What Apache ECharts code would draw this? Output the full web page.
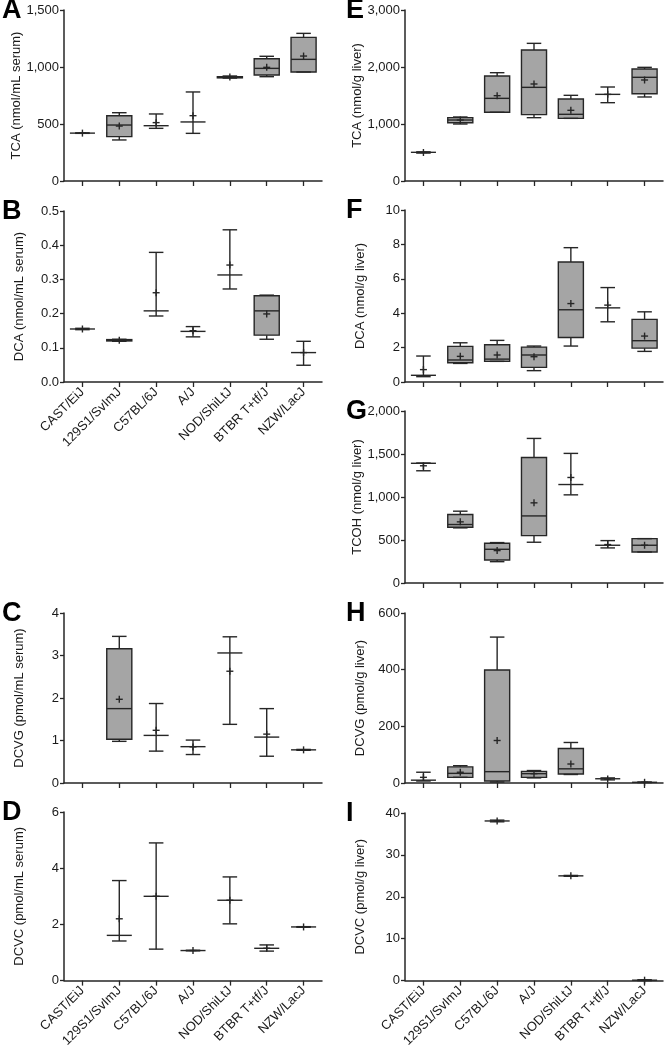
<!DOCTYPE html>
<html lang="en">
<head>
<meta charset="utf-8">
<title>Bile acids and TCE metabolites by strain</title>
<script src="https://cdn.jsdelivr.net/npm/echarts@6/dist/echarts.min.js"></script>
<style>
  html, body { margin: 0; padding: 0; background: #fff; }
  #main { width: 667px; height: 1050px; }
</style>
</head>
<body>
<div id="main"></div>
<script type="text/javascript">
var strains = ['CAST/EiJ', '129S1/SvImJ', 'C57BL/6J', 'A/J', 'NOD/ShiLtJ', 'BTBR T+tf/J', 'NZW/LacJ'];

// each row: [min, q1, median, q3, max, mean]; q1/q3 null = no box, null row = no data
var serumTCA = [
  [418, null, 420, null, 422, 420],
  [360, 389, 491, 573, 599, 482],
  [462, null, 485, null, 588, 512],
  [418, null, 518, null, 781, 573],
  [903, 905, 909, 915, 921, 912],
  [915, 930, 988, 1073, 1094, 997],
  [956, 956, 1067, 1260, 1295, 1096]
];
var serumDCA = [
  [0.153, null, 0.155, null, 0.157, 0.155],
  [0.119, 0.120, 0.122, 0.124, 0.125, 0.122],
  [0.193, null, 0.208, null, 0.379, 0.261],
  [0.132, null, 0.148, null, 0.162, 0.150],
  [0.272, null, 0.313, null, 0.445, 0.342],
  [0.125, 0.137, 0.208, 0.252, 0.254, 0.199],
  [0.049, null, 0.086, null, 0.119, 0.086]
];
var serumDCVG = [
  null,
  [0.98, 1.03, 1.75, 3.16, 3.45, 1.97],
  [0.75, null, 1.12, null, 1.87, 1.24],
  [0.67, null, 0.855, null, 1.01, 0.85],
  [1.38, null, 3.06, null, 3.44, 2.63],
  [0.63, null, 1.08, null, 1.75, 1.15],
  [0.77, null, 0.78, null, 0.79, 0.78]
];
var serumDCVC = [
  null,
  [1.41, null, 1.61, null, 3.56, 2.20],
  [1.12, null, 3.0, null, 4.90, 3.0],
  [1.06, null, 1.07, null, 1.08, 1.07],
  [2.02, null, 2.86, null, 3.69, 2.86],
  [1.05, null, 1.15, null, 1.27, 1.15],
  [1.90, null, 1.91, null, 1.92, 1.91]
];
var liverTCA = [
  [490, null, 503, null, 512, 500],
  [1000, 1023, 1070, 1111, 1123, 1070],
  [1205, 1205, 1450, 1842, 1900, 1497],
  [1111, 1164, 1643, 2298, 2415, 1702],
  [1099, 1099, 1170, 1439, 1503, 1240],
  [1374, null, 1520, null, 1649, 1520],
  [1474, 1532, 1819, 1965, 1994, 1772]
];
var liverDCA = [
  [0.31, null, 0.39, null, 1.51, 0.72],
  [1.08, 1.12, 1.28, 2.07, 2.28, 1.49],
  [1.20, 1.20, 1.33, 2.17, 2.42, 1.57],
  [0.66, 0.85, 1.57, 2.03, 2.09, 1.47],
  [2.09, 2.59, 4.20, 6.98, 7.81, 4.56],
  [3.50, null, 4.31, null, 5.49, 4.47],
  [1.78, 1.97, 2.40, 3.64, 4.08, 2.67]
];
var liverTCOH = [
  [1305, null, 1392, null, 1395, 1363],
  [641, 648, 680, 796, 835, 711],
  [248, 268, 392, 462, 470, 377],
  [474, 551, 780, 1460, 1681, 932],
  [1025, null, 1145, null, 1507, 1227],
  [408, null, 439, null, 493, 447],
  [361, 361, 439, 516, 516, 439]
];
var liverDCVG = [
  [7, null, 10, null, 38, 20],
  [20, 20, 34, 57, 61, 38],
  [3.5, 7, 40, 399, 515, 150],
  [18, 20, 33, 41, 44, 33],
  [30, 32, 50, 122, 143, 67],
  [11, null, 15, null, 18, 14],
  [1.5, null, 2.5, null, 3.5, 2.5]
];
var liverDCVC = [
  null,
  null,
  [37.9, null, 38.1, null, 38.3, 38.1],
  null,
  [24.9, null, 25.0, null, 25.1, 25.0],
  null,
  [0, null, 0.1, null, 0.2, 0.1]
];

var panels = [
  { letter: 'A', data: serumTCA, name: 'TCA (nmol/mL serum)', max: 1500, step: 500, dec: 0, col: 0, top: 10, h: 171, labels: false },
  { letter: 'B', data: serumDCA, name: 'DCA (nmol/mL serum)', max: 0.5, step: 0.1, dec: 1, col: 0, top: 211, h: 171, labels: true },
  { letter: 'C', data: serumDCVG, name: 'DCVG (pmol/mL serum)', max: 4, step: 1, dec: 0, col: 0, top: 613, h: 170, labels: false },
  { letter: 'D', data: serumDCVC, name: 'DCVC (pmol/mL serum)', max: 6, step: 2, dec: 0, col: 0, top: 812, h: 171, labels: true },
  { letter: 'E', data: liverTCA, name: 'TCA (nmol/g liver)', max: 3000, step: 1000, dec: 0, col: 1, top: 10, h: 171, labels: false },
  { letter: 'F', data: liverDCA, name: 'DCA (nmol/g liver)', max: 10, step: 2, dec: 0, col: 1, top: 210, h: 172, labels: false },
  { letter: 'G', data: liverTCOH, name: 'TCOH (nmol/g liver)', max: 2000, step: 500, dec: 0, col: 1, top: 411, h: 172, labels: false },
  { letter: 'H', data: liverDCVG, name: 'DCVG (pmol/g liver)', max: 600, step: 200, dec: 0, col: 1, top: 613, h: 170, labels: false },
  { letter: 'I', data: liverDCVC, name: 'DCVC (pmol/g liver)', max: 40, step: 10, dec: 0, col: 1, top: 813, h: 170, labels: true }
];

var colLeft = [64, 405];
var plotW = 258;
var ink = '#262626';
var font = 'Liberation Sans, Arial, sans-serif';

function fmt(dec) {
  return function (v) {
    if (dec > 0) return v.toFixed(dec);
    return Math.round(v).toLocaleString('en-US');
  };
}

// box-and-whisker drawn from the record of the category
function makeRender(rows) {
  return function (params, api) {
    var i = api.value(0);
    var r = rows[i];
    var band = api.size([1, 0])[0];
    var bw = band * 0.68, cw = bw * 0.58, pw = 3.5;
    var cx = api.coord([i, 0])[0];
    var y = function (v) { return api.coord([i, v])[1]; };
    var st = { stroke: ink, lineWidth: 1.4, fill: null };
    var kids = [];
    var hasBox = r[1] != null;
    if (hasBox) {
      kids.push({ type: 'line', shape: { x1: cx, y1: y(r[4]), x2: cx, y2: y(r[3]) }, style: st });
      kids.push({ type: 'line', shape: { x1: cx, y1: y(r[1]), x2: cx, y2: y(r[0]) }, style: st });
      kids.push({ type: 'rect', shape: { x: cx - bw / 2, y: y(r[3]), width: bw, height: y(r[1]) - y(r[3]) },
        style: { fill: '#a5a5a5', stroke: ink, lineWidth: 1.4 } });
    } else {
      kids.push({ type: 'line', shape: { x1: cx, y1: y(r[4]), x2: cx, y2: y(r[0]) }, style: st });
    }
    kids.push({ type: 'line', shape: { x1: cx - cw / 2, y1: y(r[4]), x2: cx + cw / 2, y2: y(r[4]) }, style: st });
    kids.push({ type: 'line', shape: { x1: cx - cw / 2, y1: y(r[0]), x2: cx + cw / 2, y2: y(r[0]) }, style: st });
    kids.push({ type: 'line', shape: { x1: cx - bw / 2, y1: y(r[2]), x2: cx + bw / 2, y2: y(r[2]) }, style: st });
    var my = y(r[5]);
    kids.push({ type: 'line', shape: { x1: cx - pw, y1: my, x2: cx + pw, y2: my }, style: st });
    kids.push({ type: 'line', shape: { x1: cx, y1: my - pw, x2: cx, y2: my + pw }, style: st });
    return { type: 'group', children: kids };
  };
}

var grids = [], xAxes = [], yAxes = [], series = [], graphics = [];
panels.forEach(function (p, k) {
  grids.push({ left: colLeft[p.col], top: p.top, width: plotW, height: p.h });
  xAxes.push({
    type: 'category', gridIndex: k, data: strains,
    axisLine: { lineStyle: { color: ink, width: 1.5 } },
    axisTick: { show: true, alignWithLabel: true, length: 5, lineStyle: { color: ink, width: 1.3 } },
    axisLabel: { show: p.labels, rotate: 45, interval: 0, fontSize: 13, color: '#1a1a1a', fontFamily: font, margin: 8 },
    splitLine: { show: false }
  });
  yAxes.push({
    type: 'value', gridIndex: k, min: 0, max: p.max, interval: p.step,
    name: p.name, nameLocation: 'middle', nameGap: 38,
    nameTextStyle: { fontSize: 13, color: '#1a1a1a', fontFamily: font },
    axisLine: { show: true, lineStyle: { color: ink, width: 1.5 } },
    axisTick: { show: true, length: 4, lineStyle: { color: ink, width: 1.3 } },
    axisLabel: { fontSize: 13, color: '#1a1a1a', fontFamily: font, margin: 5, formatter: fmt(p.dec) },
    splitLine: { show: false }
  });
  var items = [];
  p.data.forEach(function (r, i) { if (r) items.push([i, r[0], r[4]]); });
  series.push({
    type: 'custom', xAxisIndex: k, yAxisIndex: k,
    renderItem: makeRender(p.data),
    encode: { x: 0, y: [1, 2] },
    data: items, silent: true, animation: false
  });
  graphics.push({
    type: 'text', left: p.col === 0 ? 2 : 346, top: p.top - 13,
    style: { text: p.letter, font: 'bold 27px ' + font, fill: '#000' }
  });
});

var myChart = echarts.init(document.getElementById('main'));
myChart.setOption({
  animation: false,
  grid: grids,
  xAxis: xAxes,
  yAxis: yAxes,
  series: series,
  graphic: graphics
});
</script>
</body>
</html>
